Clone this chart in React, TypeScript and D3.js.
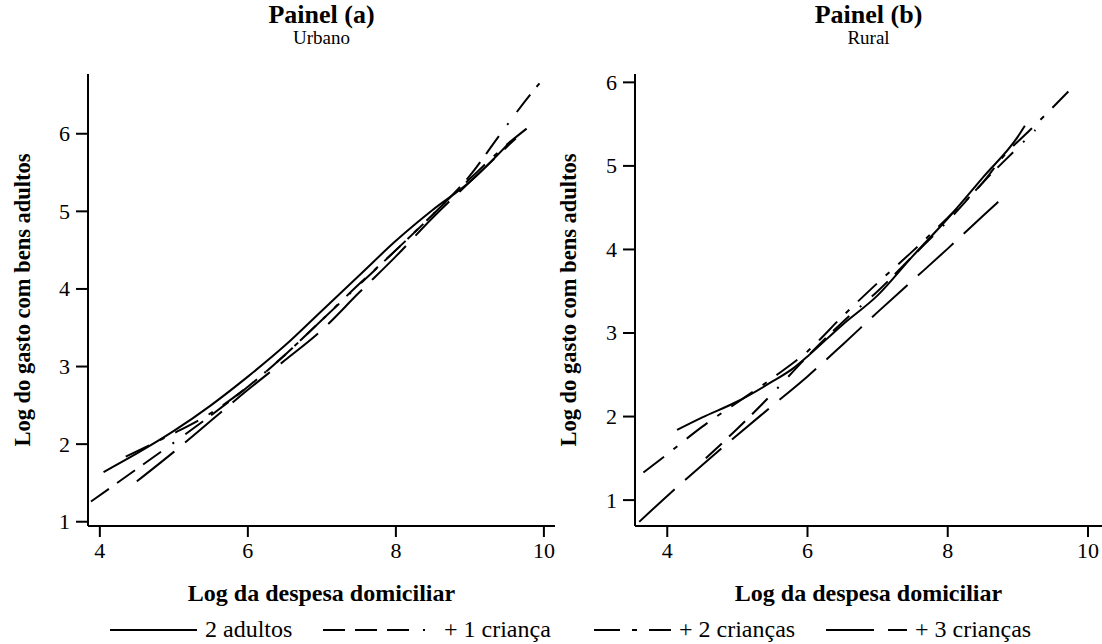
import React from "react";
import * as d3 from "d3";

// ---------- data ----------
const xTickValues = [4, 6, 8, 10];
const yTickValues = [1, 2, 3, 4, 5, 6];

const seriesLabels = ["2 adultos", "+ 1 criança", "+ 2 crianças", "+ 3 crianças"];
const seriesDash = ["none", "22,10,22,10,22,14,2,14", "26,12,5,12", "48,14"];

const panelTitles = ["Painel (a)", "Painel (b)"];
const panelSubtitles = ["Urbano", "Rural"];
const xAxisTitle = "Log da despesa domiciliar";
const yAxisTitle = "Log do gasto com bens adultos";

// Panel (a) Urbano
const urb2Adultos: [number, number][] = [
  [4.05, 1.64], [4.5, 1.88], [5, 2.17], [5.5, 2.5], [6, 2.87], [6.5, 3.27],
  [7, 3.72], [7.5, 4.17], [8, 4.62], [8.5, 5.02], [9, 5.38], [9.55, 5.9],
];
const urb1Crianca: [number, number][] = [
  [3.88, 1.26], [4.5, 1.68], [5, 2.02], [5.5, 2.37], [6, 2.74], [6.5, 3.15],
  [7, 3.6], [7.5, 4.05], [8, 4.5], [8.5, 4.96], [9, 5.46], [9.4, 5.98], [9.82, 6.51], [9.94, 6.65],
];
const urb2Criancas: [number, number][] = [
  [4.35, 1.84], [4.7, 2.0], [5, 2.14], [5.5, 2.4], [6, 2.74], [6.5, 3.15],
  [7, 3.6], [7.5, 4.06], [8, 4.5], [8.5, 4.96], [9, 5.42], [9.5, 5.86], [9.84, 6.12],
];
const urb3Criancas: [number, number][] = [
  [4.5, 1.52], [5, 1.9], [5.5, 2.3], [6, 2.7], [6.5, 3.08], [7, 3.47],
  [7.5, 3.95], [8, 4.42], [8.5, 4.92], [9, 5.38], [9.62, 5.94],
];

// Panel (b) Rural
const rur2Adultos: [number, number][] = [
  [4.14, 1.84], [4.5, 1.99], [5, 2.18], [5.5, 2.42], [5.8, 2.58], [6, 2.72],
  [6.5, 3.1], [7, 3.45], [7.5, 3.92], [8, 4.37], [8.5, 4.86], [9, 5.35], [9.1, 5.48],
];
const rur1Crianca: [number, number][] = [
  [4.55, 1.5], [5.08, 1.92], [5.46, 2.24], [6, 2.72], [6.5, 3.13], [7, 3.5],
  [7.5, 3.92], [8, 4.34], [8.5, 4.8], [9, 5.22], [9.25, 5.43],
];
const rur2Criancas: [number, number][] = [
  [3.66, 1.33], [4, 1.55], [4.5, 1.88], [5, 2.17], [5.5, 2.46], [6, 2.78],
  [6.5, 3.2], [7, 3.6], [7.5, 3.98], [8, 4.38], [8.5, 4.8], [8.8, 5.12], [9.2, 5.45], [9.72, 5.89],
];
const rur3Criancas: [number, number][] = [
  [3.6, 0.74], [4, 1.05], [4.5, 1.42], [5, 1.78], [5.5, 2.13], [6, 2.48],
  [6.5, 2.86], [7, 3.25], [7.5, 3.63], [8, 4.01], [8.5, 4.4], [8.72, 4.57],
];

const urbanSeries = [urb2Adultos, urb1Crianca, urb2Criancas, urb3Criancas];
const ruralSeries = [rur2Adultos, rur1Crianca, rur2Criancas, rur3Criancas];

// ---------- layout ----------
const W = 1102;
const H = 644;
const FONT = "'Liberation Serif', 'Times New Roman', serif";

const panels = [
  { x0: 88, x1: 555, y0: 526, y1: 74, xDom: [3.84, 10.15], yDom: [0.945, 6.77], series: urbanSeries, yTitleX: 30 },
  { x0: 635, x1: 1102, y0: 526, y1: 74, xDom: [3.54, 10.2], yDom: [0.69, 6.1], series: ruralSeries, yTitleX: 576 },
];

function Panel({ p, i }: { p: typeof panels[number]; i: number }) {
  const x = d3.scaleLinear().domain(p.xDom).range([p.x0, p.x1]);
  const y = d3.scaleLinear().domain(p.yDom).range([p.y0, p.y1]);
  const line = d3
    .line<[number, number]>()
    .x((d) => x(d[0]))
    .y((d) => y(d[1]))
    .curve(d3.curveMonotoneX);
  const cx = (p.x0 + p.x1) / 2;
  const cy = (p.y0 + p.y1) / 2;
  return (
    <g>
      <text x={cx} y={23} textAnchor="middle" fontFamily={FONT} fontWeight="bold" fontSize={26}>
        {panelTitles[i]}
      </text>
      <text x={cx} y={44} textAnchor="middle" fontFamily={FONT} fontSize={19}>
        {panelSubtitles[i]}
      </text>
      {p.series.map((s, k) => (
        <path
          key={k}
          d={line(s) || ""}
          fill="none"
          stroke="#000"
          strokeWidth={2}
          strokeDasharray={seriesDash[k]}
        />
      ))}
      {/* axes */}
      <line x1={p.x0} x2={p.x0} y1={p.y1} y2={p.y0} stroke="#000" strokeWidth={2} />
      <line x1={p.x0} x2={p.x1} y1={p.y0} y2={p.y0} stroke="#000" strokeWidth={2} />
      {yTickValues.map((t) => (
        <g key={"y" + t}>
          <line x1={p.x0 - 12} x2={p.x0} y1={y(t)} y2={y(t)} stroke="#000" strokeWidth={2} />
          <text x={p.x0 - 18} y={y(t)} dy="0.34em" textAnchor="end" fontFamily={FONT} fontSize={22}>
            {t}
          </text>
        </g>
      ))}
      {xTickValues.map((t) => (
        <g key={"x" + t}>
          <line x1={x(t)} x2={x(t)} y1={p.y0} y2={p.y0 + 11} stroke="#000" strokeWidth={2} />
          <text x={x(t)} y={p.y0 + 32} textAnchor="middle" fontFamily={FONT} fontSize={22}>
            {t}
          </text>
        </g>
      ))}
      <text x={cx} y={601} textAnchor="middle" fontFamily={FONT} fontWeight="bold" fontSize={24}>
        {xAxisTitle}
      </text>
      <text
        transform={`translate(${p.yTitleX},${cy}) rotate(-90)`}
        textAnchor="middle"
        fontFamily={FONT}
        fontWeight="bold"
        fontSize={22.5}
      >
        {yAxisTitle}
      </text>
    </g>
  );
}

const legendStarts = [110, 323, 594, 826];
const legendEnds = [197, 436, 671, 907];

export default function App() {
  return (
    <div style={{ position: "fixed", left: 0, top: 0 }}>
      <svg width={W} height={H} style={{ display: "block", background: "#fff" }}>
        <rect width={W} height={H} fill="#fff" />
        {panels.map((p, i) => (
          <Panel key={i} p={p} i={i} />
        ))}
        {seriesLabels.map((lab, k) => (
          <g key={lab}>
            <line
              x1={legendStarts[k]}
              x2={legendEnds[k]}
              y1={630}
              y2={630}
              stroke="#000"
              strokeWidth={2}
              strokeDasharray={seriesDash[k]}
            />
            <text x={legendEnds[k] + 8} y={637} fontFamily={FONT} fontSize={24}>
              {lab}
            </text>
          </g>
        ))}
      </svg>
    </div>
  );
}
